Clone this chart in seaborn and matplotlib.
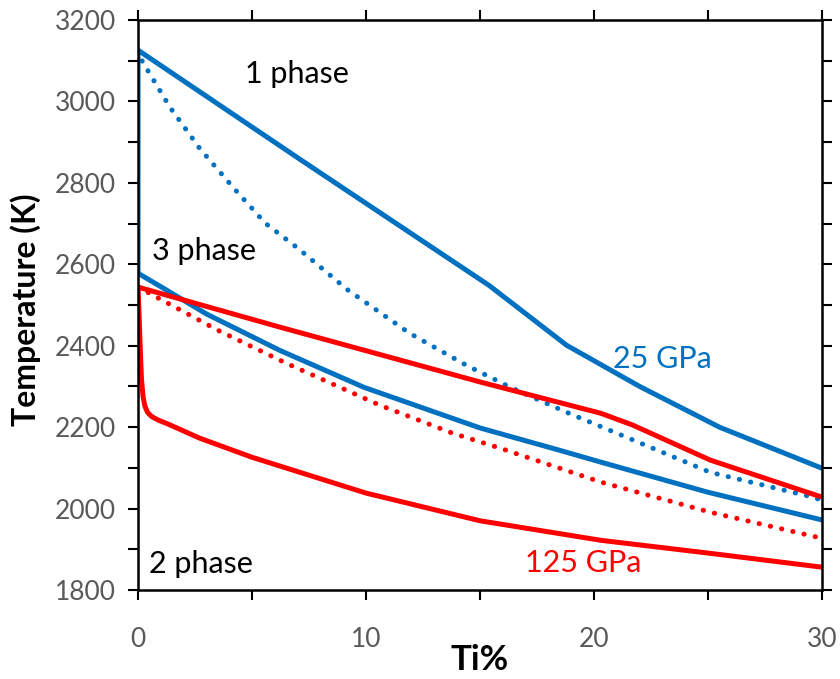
import matplotlib
matplotlib.use("Agg")
import matplotlib.pyplot as plt
from matplotlib.ticker import MultipleLocator
import seaborn as sns
import pandas as pd

# ---- data ----
blue_liq_x = [0, 0, 7.1, 15.4, 18.8, 22.0, 25.5, 30]
blue_liq_t = [2578, 3126, 2858, 2548, 2401, 2300, 2200, 2099]

blue_sol_x = [0, 1, 3, 6.2, 9.9, 15, 18.5, 20.3, 25, 30]
blue_sol_t = [2578, 2545, 2478, 2389, 2298, 2198, 2143, 2114, 2040, 1972]

blue_dot_x = [0, 0.2, 1.4, 2.7, 4.2, 5.6, 7, 9.2, 11.9, 14.4, 16.4, 18.9, 21, 25.1, 29.6, 30]
blue_dot_t = [3126, 3097, 2986, 2885, 2787, 2700, 2640, 2537, 2431, 2352, 2296, 2234, 2185, 2089, 2028, 2020]

red_liq_x = [0, 6.2, 15, 20.3, 21.7, 25.1, 30]
red_liq_t = [2544, 2446, 2311, 2234, 2205, 2119, 2028]

red_sol_x = [0, 0.05, 0.1, 0.15, 0.22, 0.3, 0.42, 0.6, 0.9, 1.3, 2.7, 5, 7.1, 10, 15, 20.3, 25.1, 30]
red_sol_t = [2544, 2470, 2390, 2320, 2275, 2252, 2236, 2226, 2217, 2208, 2173, 2126, 2089, 2038, 1970, 1922, 1890, 1856]

red_dot_x = [0, 3.5, 6.5, 10.6, 13.8, 15.9, 20.3, 25.1, 30]
red_dot_t = [2544, 2438, 2357, 2254, 2185, 2148, 2065, 1991, 1927]

x_ticks = [0, 10, 20, 30]
y_ticks = [1800, 2000, 2200, 2400, 2600, 2800, 3000, 3200]

BLUE = "#0070C0"
RED = "#FF0000"

sns.set_theme(style="white")
plt.rcParams["font.family"] = ["Lato", "DejaVu Sans"]

fig = plt.figure(figsize=(8.4, 6.79), dpi=100)
ax = fig.add_axes([0.1643, 0.1311, 0.8143, 0.8394])

lw = 3.6
dot = (0, (0.05, 2.25))

def draw(xs, ts, color, dotted=False):
    df = pd.DataFrame({"x": xs, "t": ts})
    kw = dict(color=color, linewidth=lw, sort=False, estimator=None, ax=ax)
    if dotted:
        kw.update(linestyle=dot, dash_capstyle="round")
    else:
        kw.update(solid_joinstyle="round")
    sns.lineplot(data=df, x="x", y="t", **kw)

draw(blue_liq_x, blue_liq_t, BLUE)
draw(blue_sol_x, blue_sol_t, BLUE)
draw(blue_dot_x, blue_dot_t, BLUE, dotted=True)
draw(red_liq_x, red_liq_t, RED)
draw(red_sol_x, red_sol_t, RED)
draw(red_dot_x, red_dot_t, RED, dotted=True)

ax.set_xlim(0, 30)
ax.set_ylim(1800, 3200)
ax.set_xticks(x_ticks)
ax.set_yticks(y_ticks)
ax.xaxis.set_minor_locator(MultipleLocator(5))
ax.yaxis.set_minor_locator(MultipleLocator(100))

for s in ax.spines.values():
    s.set_visible(True)
    s.set_color("black")
    s.set_linewidth(1.8)

ax.tick_params(which="both", direction="out", length=7, width=1.5, color="black",
               top=True, right=True, bottom=True, left=True,
               labelsize=19, labelcolor="#595959")
ax.tick_params(axis="y", which="major", pad=9)
ax.tick_params(axis="x", which="major", pad=20)

ax.set_xlabel("Ti%", fontsize=25, fontweight="bold", color="black")
ax.set_ylabel("Temperature (K)", fontsize=23, fontweight="bold", color="black")
ax.xaxis.set_label_coords(0.5, -0.094)
ax.yaxis.set_label_coords(-0.142, 0.492)

ax.text(4.69, 3045, "1 phase", fontsize=22, color="black", ha="left", va="baseline")
ax.text(0.61, 2610, "3 phase", fontsize=22, color="black", ha="left", va="baseline")
ax.text(0.48, 1841, "2 phase", fontsize=22, color="black", ha="left", va="baseline")
ax.text(20.83, 2345, "25 GPa", fontsize=22, color=BLUE, ha="left", va="baseline")
ax.text(16.97, 1844, "125 GPa", fontsize=22, color=RED, ha="left", va="baseline")

ax.grid(False)
fig.savefig("out.png", dpi=100)
